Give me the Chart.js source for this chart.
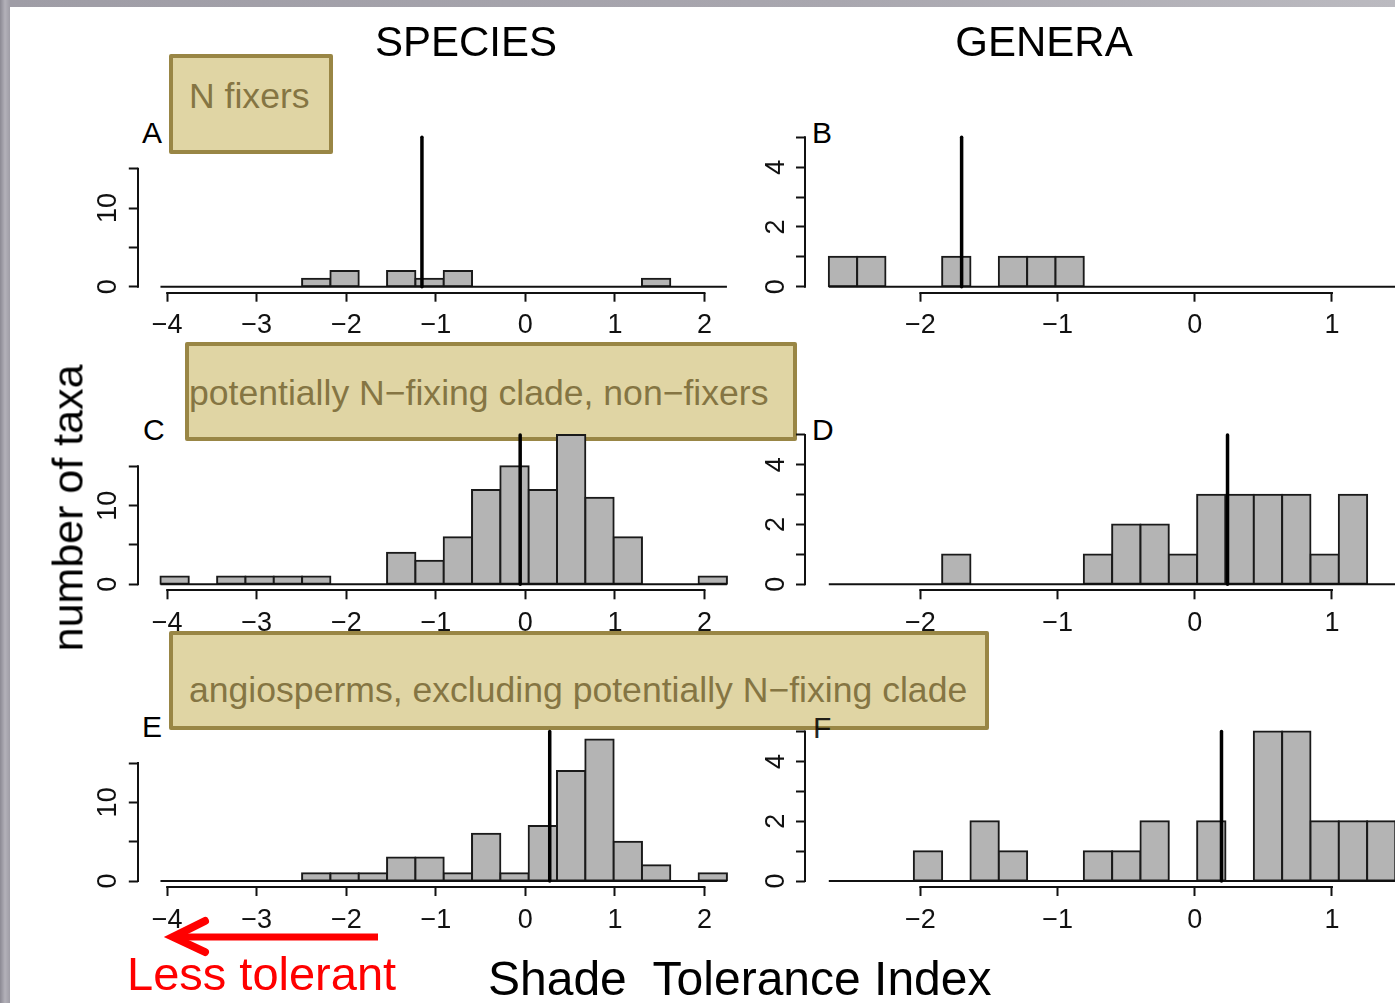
<!DOCTYPE html>
<html>
<head>
<meta charset="utf-8">
<script src="https://cdn.jsdelivr.net/npm/chart.js@4.4.1/dist/chart.umd.min.js"></script>
<style>
  html, body { margin:0; padding:0; width:1395px; height:1003px; overflow:hidden; }
  body { position:relative; background: linear-gradient(90deg,#8b8993 0px,#b3b1b9 5px,#9f9da6 10px,#a9a7af 60%,#bbbac0 100%); font-family:"Liberation Sans", Arial, Helvetica, sans-serif; color:#000; }
  #paper { position:absolute; left:10px; top:7px; width:1385px; height:996px; background:#fff; }
  .txt { position:absolute; white-space:pre; line-height:1; }
  .box { position:absolute; box-sizing:border-box; background:#e0d5a4; border:4px solid #998645; border-radius:2px; }
  .boxtxt { position:absolute; white-space:pre; line-height:1; color:#857543; font-size:35.6px; }
  canvas { position:absolute; left:0; top:0; }
</style>
</head>
<body>
<div id="paper"></div>

<div class="txt" style="left:142px;top:118px;font-size:30px;">A</div>
<div class="txt" style="left:812px;top:118px;font-size:30px;">B</div>
<div class="txt" style="left:143px;top:415px;font-size:30px;">C</div>
<div class="txt" style="left:812px;top:415px;font-size:30px;">D</div>
<div class="txt" style="left:142px;top:712px;font-size:30px;">E</div>

<div class="box" style="left:169px;top:54px;width:164px;height:100px;"></div>
<div class="boxtxt" style="left:189px;top:79px;">N fixers</div>
<div class="box" style="left:185px;top:342px;width:612px;height:99px;"></div>
<div class="boxtxt" style="left:189px;top:376px;">potentially N−fixing clade, non−fixers</div>
<div class="box" style="left:169px;top:631px;width:820px;height:99px;"></div>
<div class="boxtxt" style="left:189px;top:673px;">angiosperms, excluding potentially N−fixing clade</div>
<div class="txt" style="left:813px;top:713px;font-size:30px;opacity:0.85;">F</div>

<canvas id="cA" width="1500" height="1003"></canvas>
<canvas id="cB" width="1500" height="1003"></canvas>
<canvas id="cC" width="1500" height="1003"></canvas>
<canvas id="cD" width="1500" height="1003"></canvas>
<canvas id="cE" width="1500" height="1003"></canvas>
<canvas id="cF" width="1500" height="1003"></canvas>

<div class="txt" style="left:466px;top:21px;font-size:42px;transform:translateX(-50%);">SPECIES</div>
<div class="txt" style="left:1044px;top:21px;font-size:42px;transform:translateX(-50%);">GENERA</div>
<div class="txt" style="left:68px;top:508px;font-size:43px;transform:translate(-50%,-50%) rotate(-90deg);">number of taxa</div>
<div class="txt" style="left:488px;top:955px;font-size:48px;">Shade  Tolerance Index</div>
<div class="txt" style="left:127px;top:950px;font-size:47px;color:#ff0000;">Less tolerant</div>
<svg style="position:absolute;left:0;top:0;" width="1395" height="1003">
  <line x1="378" y1="937" x2="178" y2="937" stroke="#ff0000" stroke-width="7"/>
  <polyline points="205,921 173,937 205,952" fill="none" stroke="#ff0000" stroke-width="8" stroke-linecap="round" stroke-linejoin="miter"/>
</svg>

<script>
// ---------------- data ----------------
// histogram breaks (shared by all panels of a column)
const speciesFirstBreak = -4.075;
const speciesBinWidth = 0.3163;
const generaFirstBreak = -2.667;
const generaBinWidth = 0.2065;

// counts per bin (species: 20 bins, genera: 21 bins)
const countsA = [0,0,0,0,0,1,2,0,2,1,2,0,0,0,0,0,0,1,0,0];
const countsC = [1,0,1,1,1,1,0,0,4,3,6,12,15,12,19,11,6,0,0,1];
const countsE = [0,0,0,0,0,1,1,1,3,3,1,6,1,7,14,18,5,2,0,1];
const countsB = [1,1,0,0,1,0,1,1,1,0,0,0,0,0,0,0,0,0,0,0,0];
const countsD = [0,0,0,0,1,0,0,0,0,1,2,2,1,3,3,3,3,1,3,0,0];
const countsF = [0,0,0,1,0,2,1,0,0,1,1,2,0,2,0,5,5,2,2,2,2];

// vertical reference lines (median shade tolerance)
const medianA = -1.155, medianC = -0.058, medianE = 0.272;
const medianB = -1.699, medianD = 0.239, medianF = 0.195;

// y limits and tick labels
const speciesYMax = 19, generaYMax = 5;
const speciesYStep = 5, generaYStep = 1;
const speciesYLabelValues = [0, 10];
const generaYLabelValues = [0, 2, 4];
const xTickStep = 1;

// ---------------- layout ----------------
const CANVAS_W = 1500, CANVAS_H = 1003, Y_AXIS_W = 70, X_AXIS_H = 60, PLOT_H = 161.4;
const speciesCol = { left: 137.8, right: 749.6 };
const generaCol = { left: 805.0, right: 1447.6 };
const rowBottoms = [292.7, 590.3, 887.0];

Chart.defaults.font.family = '"Liberation Sans", Arial, Helvetica, sans-serif';

function histData(first, width, counts) {
  return counts.map((c, i) => ({ x: first + (i + 0.5) * width, y: c }));
}

const axisLinePlugin = {
  id: 'axisLines',
  afterDraw(chart) {
    const ctx = chart.ctx;
    const xs = chart.scales.x, ys = chart.scales.y;
    ctx.save();
    ctx.strokeStyle = '#111';
    ctx.lineWidth = 2;
    const xt = xs.ticks, yt = ys.ticks;
    const x0 = xs.getPixelForValue(xt[0].value), x1 = xs.getPixelForValue(xt[xt.length - 1].value);
    const yb = Math.round(chart.chartArea.bottom);
    ctx.beginPath(); ctx.moveTo(x0 - 1, yb); ctx.lineTo(x1 + 1, yb); ctx.stroke();
    const y0 = ys.getPixelForValue(yt[0].value), y1 = ys.getPixelForValue(yt[yt.length - 1].value);
    const xl = Math.round(chart.chartArea.left);
    ctx.beginPath(); ctx.moveTo(xl, y0 + 1); ctx.lineTo(xl, y1 - 1); ctx.stroke();
    ctx.restore();
  }
};

function buildPanel(id, opt) {
  const nb = opt.counts.length;
  const lastBreak = opt.first + nb * opt.width;
  const xr = lastBreak - opt.first;
  const xMin = opt.first - 0.04 * xr, xMax = lastBreak + 0.04 * xr;
  const yMin = -0.04 * opt.yMax, yMax = opt.yMax * 1.04;
  const area = { left: opt.col.left, right: opt.col.right, bottom: opt.bottom, top: opt.bottom - PLOT_H };
  new Chart(document.getElementById(id), {
    type: 'bar',
    data: {
      datasets: [
        { type: 'line', data: [{ x: opt.median, y: 0 }, { x: opt.median, y: opt.yMax }],
          borderColor: '#000', borderWidth: 3.5, borderCapStyle: 'round', pointRadius: 0, fill: false, order: 0 },
        { type: 'line', data: [{ x: opt.first, y: 0 }, { x: lastBreak, y: 0 }],
          borderColor: '#111', borderWidth: 2, pointRadius: 0, fill: false, order: 1 },
        { type: 'bar', data: histData(opt.first, opt.width, opt.counts),
          backgroundColor: '#b4b4b4', borderColor: '#1a1a1a', borderWidth: 2, borderSkipped: false,
          inflateAmount: 1, barPercentage: 1, categoryPercentage: 1, order: 2 }
      ]
    },
    options: {
      responsive: false, animation: false, devicePixelRatio: 1, events: [],
      layout: { padding: { left: area.left - Y_AXIS_W, right: CANVAS_W - area.right, top: area.top, bottom: CANVAS_H - area.bottom - X_AXIS_H } },
      plugins: { legend: { display: false }, tooltip: { enabled: false } },
      scales: {
        x: {
          type: 'linear', min: xMin, max: xMax, offset: false,
          border: { display: false },
          grid: { display: true, drawOnChartArea: false, drawTicks: true, tickLength: 9, tickWidth: 2, tickColor: '#111', offset: false },
          ticks: { stepSize: xTickStep, includeBounds: false, autoSkip: false, maxRotation: 0, minRotation: 0, padding: 8,
                   color: '#111', font: { size: 27 }, callback: v => String(v).replace('-', '\u2212') },
          afterFit: s => { s.height = X_AXIS_H; }
        },
        y: {
          type: 'linear', min: yMin, max: yMax,
          border: { display: false },
          grid: { display: true, drawOnChartArea: false, drawTicks: true, tickLength: 9, tickWidth: 2, tickColor: '#111' },
          ticks: { stepSize: opt.yStep, includeBounds: false, autoSkip: false, minRotation: 90, maxRotation: 90,
                   crossAlign: 'center', padding: opt.yPad, color: '#111', font: { size: 27 },
                   callback: v => opt.yLabels.includes(v) ? String(v) : '' },
          afterFit: s => { s.width = Y_AXIS_W; }
        }
      }
    },
    plugins: [axisLinePlugin]
  });
}

const speciesCommon = { first: speciesFirstBreak, width: speciesBinWidth, yMax: speciesYMax, yStep: speciesYStep, yLabels: speciesYLabelValues, col: speciesCol, yPad: 5 };
const generaCommon = { first: generaFirstBreak, width: generaBinWidth, yMax: generaYMax, yStep: generaYStep, yLabels: generaYLabelValues, col: generaCol, yPad: 12 };

buildPanel('cA', Object.assign({}, speciesCommon, { counts: countsA, median: medianA, bottom: rowBottoms[0] }));
buildPanel('cC', Object.assign({}, speciesCommon, { counts: countsC, median: medianC, bottom: rowBottoms[1] }));
buildPanel('cE', Object.assign({}, speciesCommon, { counts: countsE, median: medianE, bottom: rowBottoms[2] }));
buildPanel('cB', Object.assign({}, generaCommon, { counts: countsB, median: medianB, bottom: rowBottoms[0] }));
buildPanel('cD', Object.assign({}, generaCommon, { counts: countsD, median: medianD, bottom: rowBottoms[1] }));
buildPanel('cF', Object.assign({}, generaCommon, { counts: countsF, median: medianF, bottom: rowBottoms[2] }));
</script>
</body>
</html>
